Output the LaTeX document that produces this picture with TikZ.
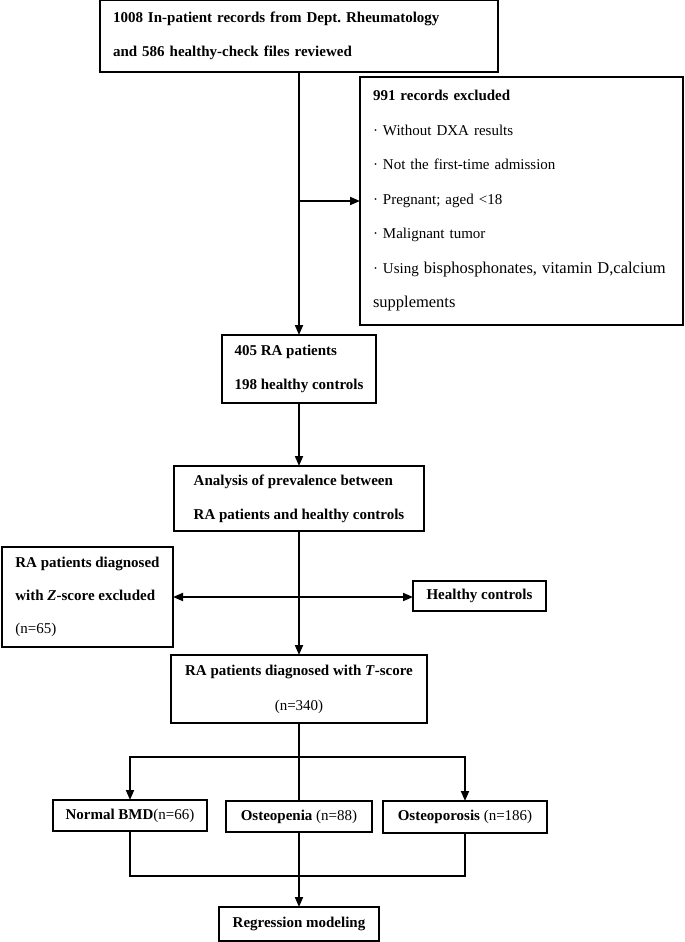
\documentclass[tikz,border=0pt]{standalone}
\usepackage{fontspec}
\setmainfont{Liberation Serif}
\usetikzlibrary{arrows.meta}
\frenchspacing
\begin{document}
\begin{tikzpicture}[x=1pt,y=-1pt,
  box/.style={draw=black, line width=1.3pt, inner sep=0pt, outer sep=0pt, anchor=north west,
              font=\fontsize{15}{34}\selectfont},
  bbox/.style={box, font=\fontsize{15}{34}\selectfont\bfseries},
  conn/.style={line width=1.8pt},
  arr/.style={conn, -{Triangle[length=10pt,width=8pt]}},
  arrtwo/.style={conn, {Triangle[length=10pt,width=8pt]}-{Triangle[length=10pt,width=8pt]}}]
\useasboundingbox (0,0) rectangle (685,942);

% boxes
\node[bbox, minimum height=72pt, inner xsep=13pt, text width=372pt, align=left] (src) at (100,0)
  {1008 In-patient records from Dept. Rheumatology\\and 586 healthy-check files reviewed};
\node[box, minimum height=248pt, inner xsep=13pt, text width=297pt, align=left,
      font=\fontsize{15}{34.5}\selectfont] (excl) at (360,77)
  {\textbf{991 records excluded}\\
   · Without DXA results\\
   · Not the first-time admission\\
   · Pregnant; aged <18\\
   · Malignant tumor\\
   · Using {\fontsize{16.5}{34.5}\selectfont bisphosphonates, vitamin D,calcium}\\
   {\fontsize{16.5}{34.5}\selectfont supplements}};
\node[bbox, minimum width=154pt, minimum height=68pt, align=left] (rap) at (222,335)
  {405 RA patients\\198 healthy controls};
\node[bbox, minimum width=250pt, minimum height=65pt, align=left] (ana) at (174,466)
  {Analysis of prevalence between\\RA patients and healthy controls};
\node[box, minimum width=171pt, minimum height=100pt, align=left,
      font=\fontsize{15}{33}\selectfont] (zex) at (2,547)
  {\textbf{RA patients diagnosed}\\\textbf{with \textit{Z}-score excluded}\\(n=65)};
\node[bbox, minimum width=133pt, minimum height=30pt] (hc) at (413,581) {Healthy controls};
\node[box, minimum width=256pt, minimum height=68pt, align=center,
      font=\fontsize{15}{35}\selectfont] (tsc) at (171,655)
  {\textbf{RA patients diagnosed with \textit{T}-score}\\(n=340)};
\node[box, minimum width=154pt, minimum height=31pt] (nbmd) at (53,800) {\textbf{Normal BMD}(n=66)};
\node[box, minimum width=146pt, minimum height=31pt] (ope) at (226,801) {\textbf{Osteopenia} (n=88)};
\node[box, minimum width=164pt, minimum height=32pt] (opo) at (383,801) {\textbf{Osteoporosis} (n=186)};
\node[bbox, minimum width=160pt, minimum height=34pt] (reg) at (219,907) {Regression modeling};

% connectors
\draw[arr] (src.south) -- (rap.north);
\draw[arr] (src.south |- excl.west) -- (excl.west);
\draw[arr] (rap.south) -- (rap.south |- ana.north);
\draw[arr] (ana.south) -- (ana.south |- tsc.north);
\draw[arrtwo] (zex.east) -- (zex.east -| hc.west);
\draw[conn] (tsc.south) -- (tsc.south |- ope.north);
\path (tsc.south) ++(0,34) coordinate (split);
\draw[arr] (split) -| (nbmd.north);
\draw[arr] (split) -| (opo.north);
\path (ope.south) ++(0,44) coordinate (merge);
\draw[conn] (nbmd.south) |- (merge) -| (opo.south);
\draw[arr] (ope.south) -- (ope.south |- reg.north);
\end{tikzpicture}
\end{document}
